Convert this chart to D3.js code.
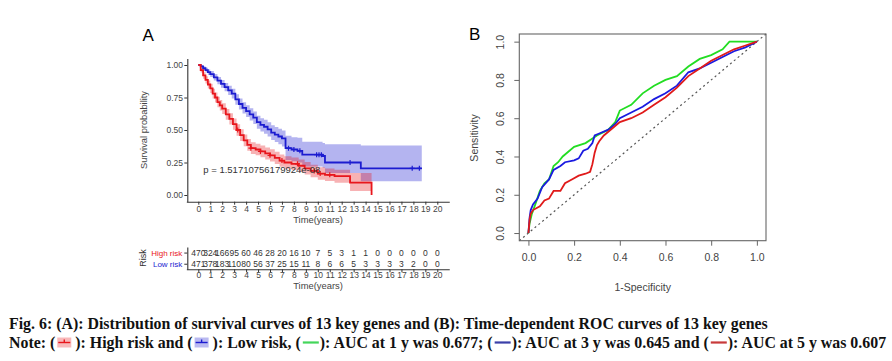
<!DOCTYPE html>
<html><head><meta charset="utf-8">
<script src="https://cdn.jsdelivr.net/npm/d3@7"></script>
<style>body{margin:0;background:#fff}svg{display:block}</style>
</head><body>
<svg id="c" width="892" height="361"></svg>
<script>
// ---------- DATA ----------
const kmYears = d3.range(0, 21);
const kmYTicks = [0, 0.25, 0.5, 0.75, 1];
const highT = [0,.2,.4,.6,.8,1.0,1.2,1.4,1.6,1.8,2.0,2.3,2.6,2.9,3.2,3.5,3.8,4.1,4.4,4.8,5.2,5.6,6.0,6.4,6.8,7.2,7.8,8.4,8.9,9.4,10.0,10.6,11.4,12.7,14.5];
const highS = [1,.96,.92,.885,.85,.82,.78,.75,.715,.69,.665,.62,.585,.545,.5,.46,.42,.385,.36,.35,.335,.32,.305,.285,.265,.25,.24,.225,.205,.185,.165,.155,.145,.095,0];
const highU = [1,.978,.945,.913,.88,.855,.817,.788,.755,.73,.706,.662,.628,.589,.545,.505,.465,.43,.405,.395,.38,.366,.352,.332,.312,.298,.288,.273,.253,.233,.213,.203,.195,.17,.17];
const highL = [1,.942,.895,.857,.82,.785,.743,.712,.675,.65,.624,.578,.542,.501,.455,.415,.375,.34,.315,.305,.29,.274,.258,.238,.218,.202,.192,.177,.157,.137,.117,.107,.095,.03,.03];
const highCensor = [3.3,4.4,5.2,6.0,7.0,8.3,9.7,10.2,11.0];
const lowT = [0,.2,.4,.6,.8,1.0,1.3,1.6,1.9,2.2,2.5,2.8,3.1,3.4,3.7,4.0,4.3,4.6,4.9,5.2,5.5,5.8,6.1,6.4,6.7,7.0,7.3,7.8,8.3,8.7,10.4,10.6,13.6,18.7];
const lowS = [1,.99,.975,.96,.945,.93,.905,.88,.855,.83,.805,.78,.735,.70,.67,.645,.62,.595,.56,.54,.525,.505,.48,.465,.45,.435,.36,.35,.34,.31,.30,.25,.205,.205];
const lowU = [1,1,.99,.978,.966,.953,.93,.908,.885,.862,.84,.817,.775,.742,.714,.69,.667,.643,.61,.591,.578,.56,.537,.523,.51,.497,.455,.445,.44,.41,.40,.39,.38,.38];
const lowL = [1,.98,.96,.942,.924,.907,.88,.852,.825,.798,.77,.743,.695,.658,.626,.6,.573,.547,.51,.489,.472,.45,.423,.407,.39,.373,.27,.26,.25,.22,.21,.17,.105,.105];
const lowCensor = [7.55,8.0,8.5,9.9,10.1,10.3,12.7,17.9,18.5];
const pText = "p = 1.51710756179924e-08";
const riskGroups = ["High risk", "Low risk"];
const riskHigh = [470,324,166,95,60,46,28,20,16,10,7,5,3,1,1,0,0,0,0,0,0];
const riskLow = [471,378,183,110,80,56,37,25,15,11,8,6,6,5,3,3,3,3,2,0,0];

const rocTicks = [0, 0.2, 0.4, 0.6, 0.8, 1.0];
const roc1yX = [0,.005,.015,.03,.05,.07,.09,.11,.13,.15,.2,.25,.3,.35,.38,.4,.45,.5,.55,.6,.65,.7,.75,.8,.85,.88,1];
const roc1yY = [0,.05,.1,.15,.22,.26,.28,.35,.37,.40,.45,.47,.51,.54,.58,.64,.67,.73,.77,.80,.82,.87,.91,.93,.96,1,1];
const roc3yX = [0,.005,.01,.02,.04,.06,.09,.11,.14,.16,.2,.22,.24,.26,.28,.29,.31,.35,.38,.4,.45,.5,.55,.6,.65,.7,.75,.8,.85,.9,.95,1];
const roc3yY = [0,.08,.12,.15,.18,.24,.28,.33,.35,.37,.38,.39,.43,.44,.47,.51,.52,.54,.57,.60,.63,.66,.70,.73,.77,.84,.86,.89,.92,.95,.97,1];
const roc5yX = [0,.005,.01,.02,.05,.07,.09,.11,.14,.16,.19,.22,.25,.27,.28,.29,.30,.31,.33,.36,.4,.45,.5,.55,.6,.65,.7,.75,.8,.85,.9,.95,1];
const roc5yY = [0,.07,.10,.12,.14,.17,.18,.22,.22,.26,.28,.30,.31,.32,.36,.42,.46,.48,.51,.54,.58,.60,.63,.67,.71,.76,.82,.86,.90,.93,.96,.98,1];

const captionLine1 = "Fig. 6: (A): Distribution of survival curves of 13 key genes and (B): Time-dependent ROC curves of 13 key genes";
const captionParts = [
  {t:"Note: ("}, {icon:"high"}, {t:"): High risk and ("}, {icon:"low"},
  {t:"): Low risk, ("}, {line:"#44d65a"}, {t:"): AUC at 1 y was 0.677; ("}, {line:"#3a3fa8"},
  {t:"): AUC at 3 y was 0.645 and ("}, {line:"#c83a3a"}, {t:"): AUC at 5 y was 0.607"}
];

// ---------- DRAW ----------
const svg = d3.select("#c");
const SANS = "Liberation Sans, Arial, sans-serif";
const RED = "#e8161c", BLUE = "#1c1cd0";

// Panel A
const x = d3.scaleLinear().domain([-1, 21]).range([186.35, 449.25]);
const y = d3.scaleLinear().domain([-0.05, 1.05]).range([201.5, 58.5]);
const A = svg.append("g");

A.append("text").attr("x", 142.5).attr("y", 40.5).attr("font-family", SANS).attr("font-size", 17).text("A");

function band(T, L, U) {
  return d3.area().curve(d3.curveStepAfter).x((d,i)=>x(T[i])).y0((d,i)=>y(L[i])).y1((d,i)=>y(U[i]))(T);
}
function step(T, S) {
  return d3.line().curve(d3.curveStepAfter).x((d,i)=>x(T[i])).y((d,i)=>y(S[i]))(T);
}
A.append("path").attr("d", band(lowT, lowL, lowU)).attr("fill", BLUE).attr("fill-opacity", 0.33);
A.append("path").attr("d", band(highT, highL, highU)).attr("fill", RED).attr("fill-opacity", 0.33);
A.append("path").attr("d", step(lowT, lowS)).attr("fill", "none").attr("stroke", BLUE).attr("stroke-width", 1.8);
A.append("path").attr("d", step(highT, highS)).attr("fill", "none").attr("stroke", RED).attr("stroke-width", 1.8);

function survAt(T, S, t) { const i = d3.bisectRight(T, t) - 1; return S[Math.max(0, i)]; }
function censor(times, T, S, col) {
  A.append("g").selectAll("path").data(times).join("path")
    .attr("d", t => `M${x(t)},${y(survAt(T,S,t))-2.5}v5M${x(t)-2.5},${y(survAt(T,S,t))}h5`)
    .attr("stroke", col).attr("stroke-width", 1.2);
}
censor(lowCensor, lowT, lowS, BLUE);
censor(highCensor, highT, highS, RED);

A.append("text").attr("x", 203.3).attr("y", 173.3).attr("font-family", SANS).attr("font-size", 9.5)
  .attr("fill", "#333").text(pText);

function styleAxis(g, fs) {
  g.selectAll("path.domain").attr("stroke", "#333").attr("stroke-width", 1.1);
  g.selectAll(".tick line").attr("stroke", "#333");
  g.selectAll(".tick text").attr("font-family", SANS).attr("font-size", fs).attr("fill", "#444");
}
const ay = A.append("g").attr("transform", "translate(187.3,0)")
  .call(d3.axisLeft(y).tickValues(kmYTicks).tickFormat(d3.format(".2f")).tickSize(3).tickPadding(1.3).tickSizeOuter(0));
styleAxis(ay, 8.5);
const ax = A.append("g").attr("transform", "translate(0,201.7)")
  .call(d3.axisBottom(x).tickValues(kmYears).tickSize(3).tickPadding(1.2).tickSizeOuter(0));
styleAxis(ax, 8.5);
A.append("text").attr("transform", "translate(146.5,130) rotate(-90)").attr("text-anchor", "middle")
  .attr("font-family", SANS).attr("font-size", 9.3).attr("fill", "#444").text("Survival probability");
A.append("text").attr("x", 318).attr("y", 222.8).attr("text-anchor", "middle")
  .attr("font-family", SANS).attr("font-size", 9.4).attr("fill", "#444").text("Time(years)");

// Risk table
const ry = d3.scalePoint().domain(riskGroups).range([247, 269.3]).padding(0.5);
const rax = A.append("g").attr("transform", "translate(0,269.3)")
  .call(d3.axisBottom(x).tickValues(kmYears).tickSize(3).tickPadding(0).tickSizeOuter(0));
styleAxis(rax, 8.5);
const ray = A.append("g").attr("transform", "translate(187.3,0)")
  .call(d3.axisLeft(ry).tickSize(3).tickPadding(2).tickSizeOuter(0));
styleAxis(ray, 8);
ray.selectAll(".tick text").attr("fill", (d) => d === "High risk" ? RED : BLUE);
[[riskHigh, "High risk"], [riskLow, "Low risk"]].forEach(([vals, g]) => {
  A.append("g").selectAll("text").data(vals).join("text")
    .attr("x", (d,i) => x(kmYears[i])).attr("y", ry(g)).attr("dy", "0.35em")
    .attr("text-anchor", "middle").attr("font-family", SANS).attr("font-size", 8.5).attr("fill", "#333")
    .text(d => d);
});
A.append("text").attr("transform", "translate(145.5,258) rotate(-90)").attr("text-anchor", "middle")
  .attr("font-family", SANS).attr("font-size", 9).attr("fill", "#333").text("Risk");
A.append("text").attr("x", 318).attr("y", 289).attr("text-anchor", "middle")
  .attr("font-family", SANS).attr("font-size", 9.4).attr("fill", "#444").text("Time(years)");

// Panel B
const bx = d3.scaleLinear().domain([-0.04, 1.04]).range([519.3, 766]);
const by = d3.scaleLinear().domain([-0.04, 1.04]).range([240.7, 34]);
const B = svg.append("g");
B.append("text").attr("x", 469).attr("y", 40).attr("font-family", SANS).attr("font-size", 17).text("B");
B.append("line").attr("x1", bx(-0.04)).attr("y1", by(-0.04)).attr("x2", bx(1.04)).attr("y2", by(1.04))
  .attr("stroke", "#555").attr("stroke-width", 1.2).attr("stroke-dasharray", "2,3");
const rocLine = (X, Y) => d3.line().x((d,i)=>bx(X[i])).y((d,i)=>by(Y[i]))(X);
B.append("path").attr("d", rocLine(roc1yX, roc1yY)).attr("fill","none").attr("stroke","#22dd22").attr("stroke-width",1.8);
B.append("path").attr("d", rocLine(roc3yX, roc3yY)).attr("fill","none").attr("stroke","#1a1ae0").attr("stroke-width",1.8);
B.append("path").attr("d", rocLine(roc5yX, roc5yY)).attr("fill","none").attr("stroke","#e01a1a").attr("stroke-width",1.8);
B.append("rect").attr("x", 519.3).attr("y", 34).attr("width", 766-519.3).attr("height", 240.7-34)
  .attr("fill", "none").attr("stroke", "#666").attr("stroke-width", 1.1);
const bxa = B.append("g").attr("transform", "translate(0,240.7)")
  .call(d3.axisBottom(bx).tickValues(rocTicks).tickFormat(d3.format(".1f")).tickSize(5).tickPadding(8).tickSizeOuter(0));
const bya = B.append("g").attr("transform", "translate(519.3,0)")
  .call(d3.axisLeft(by).tickValues(rocTicks).tickFormat(d3.format(".1f")).tickSize(5).tickPadding(8).tickSizeOuter(0));
[bxa, bya].forEach(g => {
  g.select("path.domain").remove();
  g.selectAll(".tick line").attr("stroke", "#666");
  g.selectAll(".tick text").attr("font-family", SANS).attr("font-size", 10.5).attr("fill", "#444");
});
bya.selectAll(".tick text").attr("text-anchor", "middle").attr("dy", 0).attr("x", 0)
  .attr("transform", "translate(-15,0) rotate(-90)");
B.append("text").attr("transform", "translate(477.5,138) rotate(-90)").attr("text-anchor", "middle")
  .attr("font-family", SANS).attr("font-size", 10.5).attr("fill", "#444").text("Sensitivity");
B.append("text").attr("x", 642.7).attr("y", 290.5).attr("text-anchor", "middle")
  .attr("font-family", SANS).attr("font-size", 10.5).attr("fill", "#444").text("1-Specificity");

// Caption
const SERIF = "Liberation Serif, Times New Roman, serif";
const meas = svg.append("text").attr("font-family", SERIF).attr("font-weight", "bold").attr("font-size", 100).text(captionLine1);
const w100 = meas.node().getComputedTextLength();
meas.remove();
const fs = 100 * (768 - 9) / w100;
svg.append("text").attr("x", 9).attr("y", 328.8).attr("font-family", SERIF).attr("font-weight", "bold")
  .attr("font-size", fs).attr("fill", "#111").text(captionLine1);
let cx = 9;
const cy = 347.5;
captionParts.forEach(p => {
  if (p.t !== undefined) {
    const t = svg.append("text").attr("x", cx).attr("y", cy).attr("font-family", SERIF).attr("font-weight", "bold")
      .attr("font-size", fs).attr("fill", "#111").attr("xml:space", "preserve").text(p.t);
    cx += t.node().getComputedTextLength();
  } else if (p.icon) {
    const col = p.icon === "high" ? RED : BLUE;
    const g = svg.append("g");
    g.append("rect").attr("x", cx + 2).attr("y", cy - 10).attr("width", 14).attr("height", 10)
      .attr("fill", col).attr("fill-opacity", 0.3);
    g.append("line").attr("x1", cx + 3).attr("x2", cx + 15).attr("y1", cy - 5).attr("y2", cy - 5).attr("stroke", col).attr("stroke-width", 1.4);
    g.append("line").attr("x1", cx + 9).attr("x2", cx + 9).attr("y1", cy - 8).attr("y2", cy - 5).attr("stroke", col).attr("stroke-width", 1.4);
    cx += 20;
  } else if (p.line) {
    svg.append("line").attr("x1", cx + 2).attr("x2", cx + 18).attr("y1", cy - 5).attr("y2", cy - 5)
      .attr("stroke", p.line).attr("stroke-width", 2.2);
    cx += 19;
  }
});
</script>
</body></html>
